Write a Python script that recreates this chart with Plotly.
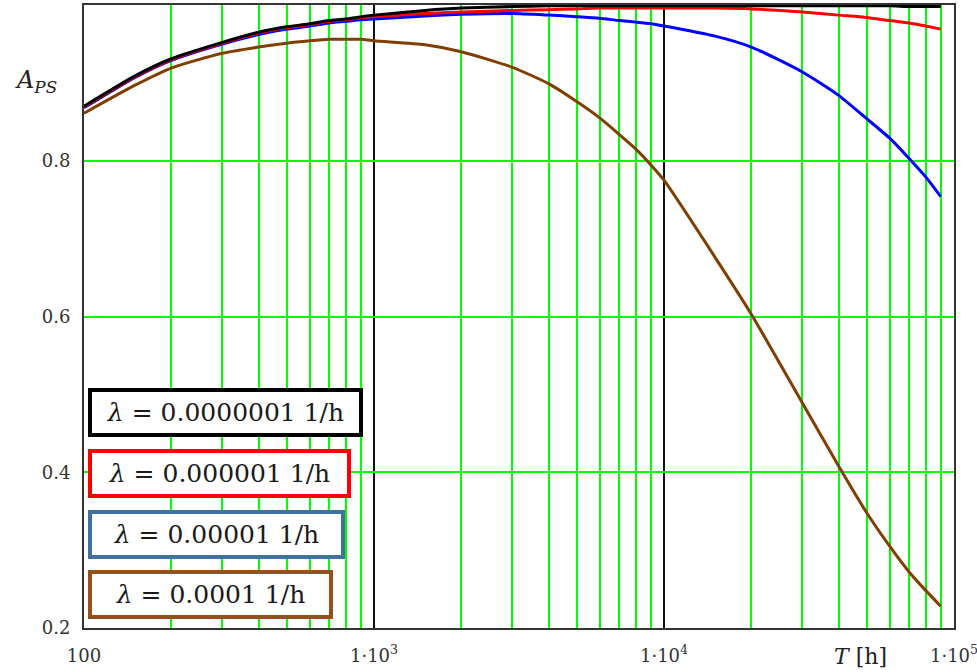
import plotly.graph_objects as go

# ---- data ----
T_hours = [100, 150, 200, 300, 400, 500, 600, 700, 800, 900,
           1000, 1500, 2000, 3000, 4000, 5000, 6000, 7000, 8000, 9000,
           10000, 15000, 20000, 30000, 40000, 50000, 60000, 70000, 80000, 90000]

A_lambda_1e7 = [0.870, 0.909, 0.931, 0.952, 0.965, 0.972, 0.976, 0.980, 0.982, 0.985,
                0.987, 0.993, 0.996, 0.998, 0.999, 0.999, 0.999, 0.999, 0.999, 0.999,
                0.999, 0.999, 0.999, 0.999, 0.999, 0.999, 0.999, 0.998, 0.998, 0.998]

A_lambda_1e6 = [0.869, 0.908, 0.930, 0.951, 0.964, 0.971, 0.975, 0.979, 0.981, 0.984,
                0.985, 0.989, 0.991, 0.993, 0.994, 0.995, 0.996, 0.996, 0.996, 0.996,
                0.996, 0.996, 0.995, 0.991, 0.987, 0.984, 0.980, 0.977, 0.973, 0.969]

A_lambda_1e5 = [0.868, 0.907, 0.929, 0.950, 0.962, 0.969, 0.973, 0.977, 0.979, 0.981,
                0.982, 0.986, 0.988, 0.989, 0.987, 0.985, 0.983, 0.980, 0.978, 0.976,
                0.973, 0.960, 0.946, 0.914, 0.884, 0.854, 0.829, 0.803, 0.779, 0.754]

A_lambda_1e4 = [0.861, 0.897, 0.919, 0.938, 0.946, 0.951, 0.954, 0.956, 0.956, 0.956,
                0.954, 0.949, 0.940, 0.920, 0.899, 0.876, 0.855, 0.834, 0.815, 0.795,
                0.775, 0.676, 0.603, 0.489, 0.408, 0.348, 0.305, 0.272, 0.248, 0.228]

series_labels = ["<i>λ</i> = 0.0000001 1/h", "<i>λ</i> = 0.000001 1/h",
                 "<i>λ</i> = 0.00001 1/h", "<i>λ</i> = 0.0001 1/h"]
series_values = [A_lambda_1e7, A_lambda_1e6, A_lambda_1e5, A_lambda_1e4]
line_colors = ["#000000", "#FF0000", "#0000FF", "#7F3F00"]
box_colors = ["#000000", "#FF0000", "#41719C", "#96501E"]

x_major_ticks = [100, 1000, 10000, 100000]
x_major_text = ["100", "1·10<sup>3</sup>", "1·10<sup>4</sup>", "1·10<sup>5</sup>"]
x_minor_ticks = [m * d for d in (100, 1000, 10000) for m in range(2, 10)]
y_ticks = [0.2, 0.4, 0.6, 0.8]
y_text = ["0.2", "0.4", "0.6", "0.8"]

# ---- figure ----
fig = go.Figure()
# draw so that black ends on top (brown first)
for vals, col in reversed(list(zip(series_values, line_colors))):
    fig.add_trace(go.Scatter(x=T_hours, y=vals, mode="lines",
                             line=dict(color=col, width=3, shape="spline", smoothing=0.6),
                             hoverinfo="skip", showlegend=False))

W, H = 977, 672
ML, MR, MT, MB = 84, 23, 5, 44
pw, ph = W - ML - MR, H - MT - MB

def px_to_paper_x(px):
    return (px - ML) / pw

def px_to_paper_y(py):
    return (H - MB - py) / ph

tick_font = dict(family="DejaVu Serif", size=18, color="#333333")

fig.update_layout(
    width=W, height=H,
    margin=dict(l=ML, r=MR, t=MT, b=MB, autoexpand=False),
    plot_bgcolor="white", paper_bgcolor="white",
    showlegend=False,
    xaxis=dict(type="log", range=[2, 5], automargin=False,
               tickmode="array", tickvals=x_major_ticks, ticktext=x_major_text,
               showgrid=True, gridcolor="#111111", gridwidth=2,
               minor=dict(tickmode="array", tickvals=x_minor_ticks, showgrid=True,
                          gridcolor="#00FF00", gridwidth=2, ticks=""),
               showline=True, mirror=True, linecolor="#333333", linewidth=2,
               ticks="", zeroline=False, tickfont=tick_font, ticklabelstandoff=10,
               ticklabeloverflow="allow"),
    yaxis=dict(range=[0.2, 1.0], automargin=False,
               tickmode="array", tickvals=y_ticks, ticktext=y_text,
               showgrid=True, gridcolor="#00FF00", gridwidth=2,
               showline=True, mirror=True, linecolor="#333333", linewidth=2,
               ticks="", zeroline=False, tickfont=tick_font, ticklabelstandoff=8,
               ticklabeloverflow="allow"),
)

# legend boxes
box_rights = [363, 351, 345, 333]
box_centers = [412.5, 473.5, 534, 594]
for lab, bc, right, cy in zip(series_labels, box_colors, box_rights, box_centers):
    fig.add_annotation(xref="paper", yref="paper",
                       x=px_to_paper_x(88), xanchor="left",
                       y=px_to_paper_y(cy), yanchor="middle",
                       text=lab, showarrow=False,
                       width=right - 88 - 8, height=41,
                       bgcolor="white", bordercolor=bc, borderwidth=4, borderpad=0,
                       align="center",
                       font=dict(family="DejaVu Serif", size=25, color="#1a1a1a"))

# axis titles
fig.add_annotation(xref="paper", yref="paper", x=px_to_paper_x(13), xanchor="left",
                   y=px_to_paper_y(82), yanchor="middle", showarrow=False,
                   text="<i>A</i><sub><i>PS</i></sub>",
                   font=dict(family="DejaVu Serif", size=24, color="#222222"))
fig.add_annotation(xref="paper", yref="paper", x=px_to_paper_x(860), xanchor="center",
                   y=px_to_paper_y(656), yanchor="middle", showarrow=False,
                   text="<i>T</i> [h]",
                   font=dict(family="DejaVu Serif", size=22, color="#222222"))

fig.write_html("out.html",
               config={"displayModeBar": False},
               post_script="document.body.style.margin='0px';"
                           "document.body.style.overflow='hidden';")
